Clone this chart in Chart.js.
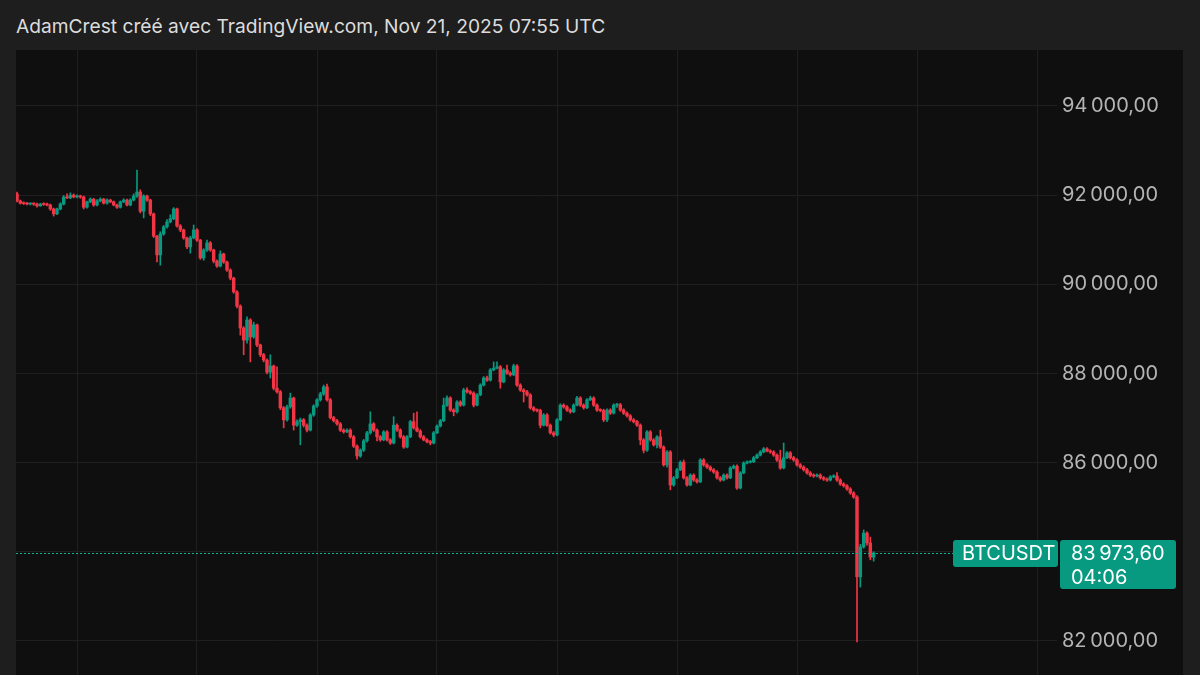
<!DOCTYPE html>
<html>
<head>
<meta charset="utf-8">
<title>BTCUSDT</title>
<script src="https://cdn.jsdelivr.net/npm/chart.js@4.4.1/dist/chart.umd.min.js"></script>
<style>
  html, body { margin: 0; padding: 0; width: 1200px; height: 675px; overflow: hidden; background: #1e1e1e; }
  #title { position: absolute; left: 16px; top: 14px; font: 19.2px Inter, "Noto Sans", sans-serif; color: #dcdcdc; white-space: nowrap; }
  #pane { position: absolute; left: 16px; top: 50px; width: 1167px; height: 625px; background: #0f0f0f; }
</style>
</head>
<body>
<div id="title">AdamCrest créé avec TradingView.com, Nov 21, 2025 07:55 UTC</div>
<div id="pane"><canvas id="chart" width="1167" height="625"></canvas></div>
<script>
// BTCUSDT 5m candles, Nov 20 10:30 -> Nov 21 07:55 UTC
const opens = [
  92030, 91870, 91820, 91810, 91800, 91810, 91800, 91760, 91800, 91790,
  91780, 91690, 91580, 91690, 91800, 91960, 91940, 92000, 91960, 91980,
  91960, 91730, 91850, 91910, 91780, 91870, 91910, 91820, 91890, 91850,
  91780, 91730, 91850, 91890, 91780, 91890, 91980, 92070, 91640, 91980,
  91890, 91580, 91080, 90660, 91130, 91290, 91400, 91470, 91690, 91310,
  91220, 91040, 90840, 91040, 91220, 90990, 90590, 90770, 90930, 90770,
  90520, 90410, 90680, 90500, 90320, 90140, 89830, 89510, 89020, 88750,
  89200, 88820, 89090, 88640, 88420, 88300, 88030, 88170, 87670, 87590,
  87230, 86960, 87250, 87450, 86840, 86920, 86960, 86840, 86730, 87070,
  87270, 87410, 87540, 87700, 87410, 87010, 86940, 86870, 86730, 86690,
  86730, 86580, 86370, 86150, 86280, 86490, 86670, 86870, 86730, 86580,
  86510, 86690, 86510, 86440, 86840, 86730, 86580, 86350, 86580, 86920,
  86780, 86710, 86580, 86510, 86470, 86440, 86670, 86820, 86940, 87290,
  87450, 87180, 87140, 87360, 87290, 87630, 87590, 87560, 87290, 87520,
  87740, 87900, 87850, 88080, 88120, 88150, 87810, 88080, 88010, 87970,
  88170, 87740, 87630, 87590, 87520, 87230, 87180, 87170, 86840, 87070,
  86840, 86670, 86620, 86960, 87290, 87250, 87180, 87140, 87290, 87450,
  87290, 87230, 87410, 87450, 87290, 87180, 87170, 86960, 87180, 87110,
  87290, 87300, 87180, 87110, 87050, 86960, 86920, 86840, 86510, 86280,
  86690, 86510, 86400, 86580, 86350, 85950, 86240, 85500, 85660, 85840,
  86010, 85660, 85500, 85720, 85610, 85570, 86060, 85950, 85900, 85840,
  85790, 85660, 85610, 85720, 85660, 85880, 85920, 85430, 85770, 85990,
  86010, 86020, 86110, 86170, 86240, 86310, 86260, 86240, 86170, 86060,
  85880, 86110, 86220, 86110, 86060, 85950, 85900, 85840, 85770, 85720,
  85700, 85720, 85660, 85630, 85610, 85680, 85700, 85610, 85520, 85480,
  85410, 85320, 85230, 83440, 84110, 84420, 84200, 83880
];
const highs = [
  92070, 91890, 91850, 91840, 91830, 91830, 91820, 91820, 91830, 91820,
  91800, 91710, 91710, 91830, 91990, 92030, 92050, 92030, 92010, 92000,
  91980, 91870, 91940, 91930, 91900, 91940, 91930, 91920, 91910, 91870,
  91800, 91870, 91920, 91910, 91920, 92030, 92560, 92120, 92010, 92000,
  91910, 91600, 91100, 91180, 91320, 91450, 91560, 91720, 91710, 91340,
  91240, 91060, 91080, 91330, 91250, 91010, 90800, 90990, 90960, 90790,
  90550, 90750, 90700, 90520, 90350, 90160, 89860, 89540, 89050, 89270,
  89230, 89150, 89110, 88660, 88450, 88330, 88420, 88190, 88150, 87620,
  87260, 87290, 87560, 87470, 86960, 87000, 86990, 86870, 87100, 87300,
  87440, 87580, 87740, 87760, 87440, 87040, 86970, 86900, 86760, 86760,
  86760, 86610, 86400, 86310, 86520, 86700, 87140, 86900, 86760, 86610,
  86720, 86720, 86540, 87030, 86870, 86760, 86610, 86610, 86950, 87110,
  87140, 86740, 86610, 86540, 86500, 86700, 86850, 86970, 87450, 87500,
  87480, 87210, 87390, 87390, 87670, 87680, 87620, 87590, 87550, 87770,
  87930, 87940, 88110, 88260, 88260, 88180, 88110, 88190, 88040, 88210,
  88200, 87770, 87660, 87620, 87550, 87260, 87210, 87200, 87100, 87100,
  86870, 86700, 86990, 87320, 87320, 87280, 87210, 87320, 87490, 87480,
  87320, 87440, 87490, 87480, 87320, 87210, 87200, 87210, 87210, 87320,
  87330, 87330, 87210, 87140, 87080, 86990, 86950, 86870, 86540, 86720,
  86720, 86540, 86610, 86730, 86380, 86270, 86270, 85690, 85870, 86040,
  86060, 85690, 85750, 85750, 85640, 86090, 86090, 85980, 85930, 85870,
  85820, 85690, 85750, 85750, 85910, 85950, 85950, 85800, 86020, 86040,
  86050, 86140, 86200, 86270, 86340, 86340, 86290, 86270, 86200, 86280,
  86440, 86250, 86250, 86140, 86090, 85980, 85930, 85870, 85800, 85750,
  85750, 85750, 85690, 85660, 85710, 85730, 85780, 85640, 85550, 85510,
  85440, 85350, 85260, 84170, 84490, 84450, 84330, 84000
];
const lows = [
  91850, 91800, 91790, 91780, 91780, 91770, 91730, 91750, 91770, 91760,
  91660, 91530, 91560, 91670, 91780, 91920, 91920, 91940, 91940, 91930,
  91690, 91710, 91830, 91750, 91760, 91850, 91800, 91800, 91830, 91760,
  91700, 91710, 91830, 91760, 91760, 91870, 91950, 91600, 91490, 91860,
  91540, 91050, 90500, 90430, 91100, 91260, 91380, 91450, 91280, 91180,
  91010, 90800, 90700, 91020, 90960, 90560, 90540, 90740, 90740, 90480,
  90380, 90390, 90470, 90290, 90100, 89800, 89470, 88860, 88420, 88680,
  88260, 88790, 88600, 88380, 88260, 87990, 87900, 87630, 87560, 87190,
  86780, 86930, 87220, 86730, 86810, 86400, 86800, 86690, 86710, 87040,
  87240, 87380, 87510, 87380, 86980, 86910, 86840, 86700, 86660, 86670,
  86550, 86340, 86080, 86120, 86250, 86460, 86640, 86700, 86490, 86480,
  86490, 86480, 86410, 86420, 86700, 86550, 86320, 86330, 86560, 86750,
  86690, 86550, 86490, 86440, 86400, 86420, 86650, 86800, 86920, 87260,
  87150, 87050, 87110, 87260, 87270, 87560, 87530, 87250, 87270, 87500,
  87720, 87820, 87830, 88060, 88100, 87670, 87790, 87980, 87940, 87950,
  87710, 87600, 87360, 87490, 87200, 87150, 87140, 86780, 86820, 86810,
  86640, 86580, 86600, 86940, 87220, 87150, 87110, 87120, 87270, 87260,
  87200, 87210, 87390, 87260, 87150, 87140, 86920, 86920, 87080, 87090,
  87240, 87150, 87080, 87020, 86930, 86890, 86810, 86400, 86220, 86250,
  86480, 86370, 86330, 86320, 85920, 85900, 85390, 85470, 85640, 85820,
  85630, 85470, 85480, 85580, 85540, 85550, 85920, 85870, 85810, 85760,
  85630, 85580, 85590, 85630, 85640, 85860, 85400, 85410, 85750, 85970,
  85990, 86000, 86090, 86150, 86220, 86240, 86210, 86140, 86030, 85850,
  85860, 86090, 86080, 86030, 85920, 85870, 85810, 85740, 85690, 85670,
  85680, 85630, 85600, 85580, 85590, 85660, 85580, 85490, 85450, 85380,
  85290, 85200, 81980, 83210, 84080, 84150, 83820, 83790
];
const closes = [
  91870, 91820, 91810, 91800, 91810, 91800, 91760, 91800, 91790, 91780,
  91690, 91580, 91690, 91800, 91960, 91940, 92000, 91960, 91980, 91960,
  91730, 91850, 91910, 91780, 91870, 91910, 91820, 91890, 91850, 91780,
  91730, 91850, 91890, 91780, 91890, 91980, 92070, 91640, 91980, 91890,
  91580, 91080, 90660, 91130, 91290, 91400, 91470, 91690, 91310, 91220,
  91040, 90840, 91040, 91220, 90990, 90590, 90770, 90930, 90770, 90520,
  90410, 90680, 90500, 90320, 90140, 89830, 89510, 89020, 88750, 89200,
  88820, 89090, 88640, 88420, 88300, 88030, 88170, 87670, 87590, 87230,
  86960, 87250, 87450, 86840, 86920, 86960, 86840, 86730, 87070, 87270,
  87410, 87540, 87700, 87410, 87010, 86940, 86870, 86730, 86690, 86730,
  86580, 86370, 86150, 86280, 86490, 86670, 86870, 86730, 86580, 86510,
  86690, 86510, 86440, 86840, 86730, 86580, 86350, 86580, 86920, 86780,
  86710, 86580, 86510, 86470, 86440, 86670, 86820, 86940, 87290, 87450,
  87180, 87140, 87360, 87290, 87630, 87590, 87560, 87290, 87520, 87740,
  87900, 87850, 88080, 88120, 88150, 87810, 88080, 88010, 87970, 88170,
  87740, 87630, 87590, 87520, 87230, 87180, 87170, 86840, 87070, 86840,
  86670, 86620, 86960, 87290, 87250, 87180, 87140, 87290, 87450, 87290,
  87230, 87410, 87450, 87290, 87180, 87170, 86960, 87180, 87110, 87290,
  87300, 87180, 87110, 87050, 86960, 86920, 86840, 86510, 86280, 86690,
  86510, 86400, 86580, 86350, 85950, 86240, 85500, 85660, 85840, 86010,
  85660, 85500, 85720, 85610, 85570, 86060, 85950, 85900, 85840, 85790,
  85660, 85610, 85720, 85660, 85880, 85920, 85430, 85770, 85990, 86010,
  86020, 86110, 86170, 86240, 86310, 86260, 86240, 86170, 86060, 85880,
  86110, 86220, 86110, 86060, 85950, 85900, 85840, 85770, 85720, 85700,
  85720, 85660, 85630, 85610, 85680, 85700, 85610, 85520, 85480, 85410,
  85320, 85230, 83440, 84110, 84420, 84200, 83880, 83973.6
];

// price scale ticks and the candle indexes that fall on the 3h time grid
const priceTicks = [82000, 84000, 86000, 88000, 90000, 92000, 94000];
const timeGridIdx = [18, 54, 90, 126, 162, 198, 234, 270, 306];

const symbol = 'BTCUSDT';
const lastPrice = 83973.6;
const countdown = '04:06';

const upColor = '#089981';
const downColor = '#f23645';
const gridColor = '#1f1f1f';
const fontFamily = 'Inter, "Noto Sans", sans-serif';

const candleColors = closes.map((c, i) => c >= opens[i] ? upColor : downColor);

function fmtPrice(v, decimals) {
  const fixed = v.toFixed(decimals).split('.');
  const whole = fixed[0];
  const th = whole.slice(0, whole.length - 3);
  const rest = whole.slice(whole.length - 3);
  return (th ? th + '\u202F' : '') + rest + ',' + fixed[1];
}

// chart.js pads the plot for the edge tick labels, the pane here runs edge to edge
function noPadding(s) {
  s.paddingTop = 0;
  s.paddingBottom = 0;
  s.paddingLeft = 0;
  s.paddingRight = 0;
}

const lastPricePlugin = {
  id: 'lastPrice',
  afterDatasetsDraw(chart) {
    const ctx = chart.ctx;
    const area = chart.chartArea;
    const y = Math.round(chart.scales.y.getPixelForValue(lastPrice)) + 0.5;
    ctx.save();
    ctx.strokeStyle = '#0bb495';
    ctx.lineWidth = 1;
    ctx.setLineDash([2, 2]);
    ctx.beginPath();
    ctx.moveTo(area.left, y);
    ctx.lineTo(area.right, y);
    ctx.stroke();
    ctx.restore();
  },
  afterDraw(chart) {
    const ctx = chart.ctx;
    const area = chart.chartArea;
    const y = Math.round(chart.scales.y.getPixelForValue(lastPrice));
    ctx.save();
    ctx.fillStyle = upColor;
    // symbol tag
    ctx.beginPath();
    ctx.roundRect(area.right - 104, y - 13, 105, 27, 3);
    ctx.fill();
    // price + countdown tag
    ctx.beginPath();
    ctx.roundRect(area.right + 3, y - 13, 116, 49, 3);
    ctx.fill();
    ctx.fillStyle = '#ffffff';
    ctx.textBaseline = 'middle';
    ctx.textAlign = 'left';
    ctx.font = '20px ' + fontFamily;
    ctx.fillText(symbol, area.right - 95, y + 1);
    ctx.fillText(fmtPrice(lastPrice, 2), area.right + 14, y + 1);
    ctx.fillText(countdown, area.right + 14, y + 25);
    ctx.restore();
  }
};

new Chart(document.getElementById('chart'), {
  type: 'bar',
  data: {
    datasets: [
      {
        label: 'wicks',
        data: closes.map((c, i) => ({ x: i, y: [lows[i], highs[i]] })),
        backgroundColor: candleColors,
        barThickness: 1
      },
      {
        label: 'bodies',
        data: closes.map((c, i) => ({ x: i, y: [opens[i], c] })),
        backgroundColor: candleColors,
        barThickness: 2.8,
        minBarLength: 1
      }
    ]
  },
  options: {
    responsive: false,
    animation: false,
    layout: { padding: 0 },
    datasets: { bar: { grouped: false, borderWidth: 0, borderSkipped: false } },
    plugins: { legend: { display: false }, tooltip: { enabled: false } },
    scales: {
      x: {
        type: 'linear',
        min: -0.3,
        max: 312,
        offset: false,
        grid: { color: gridColor, drawTicks: false, offset: false },
        border: { display: false },
        ticks: { display: false },
        afterBuildTicks: s => { s.ticks = timeGridIdx.map(v => ({ value: v })); },
        afterFit: s => { s.height = 0; noPadding(s); }
      },
      y: {
        position: 'right',
        min: 81237,
        max: 95256,
        grid: { color: gridColor, drawTicks: false },
        border: { display: false },
        ticks: {
          color: '#b4b4b4',
          padding: 5,
          font: { family: fontFamily, size: 20 },
          callback: v => fmtPrice(v, 2)
        },
        afterBuildTicks: s => { s.ticks = priceTicks.map(v => ({ value: v })); },
        afterFit: s => { s.width = 126; noPadding(s); }
      }
    }
  },
  plugins: [lastPricePlugin]
});
</script>
</body>
</html>
